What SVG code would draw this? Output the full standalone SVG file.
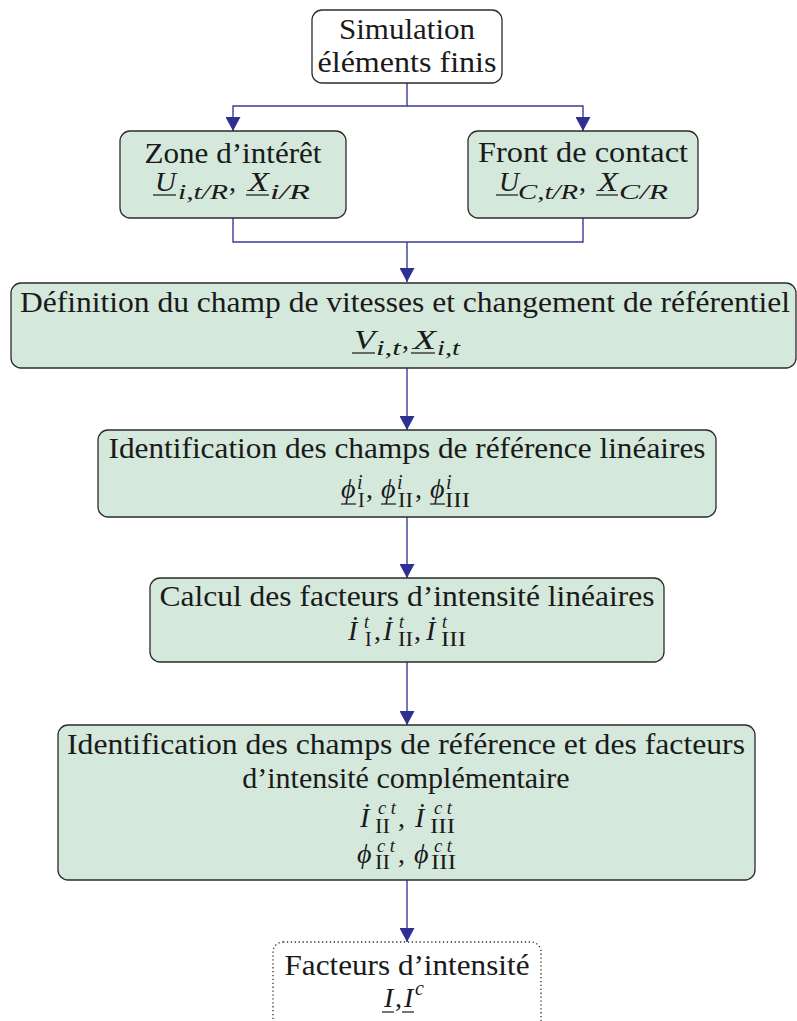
<svg xmlns="http://www.w3.org/2000/svg" width="797" height="1021" viewBox="0 0 797 1021">
<style>
.box{fill:#d5e8dc;stroke:#2b2b2b;stroke-width:1.3}
.wbox{fill:#fff;stroke:#2b2b2b;stroke-width:1.3}
.dbox{fill:#fff;stroke:#333;stroke-width:1.3;stroke-dasharray:1.3 2.6}
.t{font-family:'Liberation Serif',serif;font-size:30px;fill:#1a1a1a;text-anchor:middle}
.m{font-family:'Liberation Serif',serif;font-style:italic;font-size:28px;fill:#1a1a1a}
.r{font-family:'Liberation Serif',serif;font-size:28px;fill:#1a1a1a}
.s{font-size:20px}
.sp{font-size:18px}
.u{stroke:#1a1a1a;stroke-width:1.2}
.k{stroke:#3b3d99;stroke-width:1.4;fill:none}
</style>
<defs>
<marker id="ah" markerUnits="userSpaceOnUse" viewBox="0 0 14 15" refX="14" refY="7.5" markerWidth="14" markerHeight="15" orient="auto">
<path d="M0,0 L14,7.5 L0,15 z" fill="#2e3192"/>
</marker>
</defs>
<g id="connectors">
<path class="k" d="M407,83 V106 H233 V131" marker-end="url(#ah)"/>
<path class="k" d="M407,106 H583 V131" marker-end="url(#ah)"/>
<path class="k" d="M233,218 V242 H583 V218"/>
<path class="k" d="M407,242 V282" marker-end="url(#ah)"/>
<path class="k" d="M407,368 V430" marker-end="url(#ah)"/>
<path class="k" d="M407,517 V578" marker-end="url(#ah)"/>
<path class="k" d="M407,662 V725" marker-end="url(#ah)"/>
<path class="k" d="M407,880 V942" marker-end="url(#ah)"/>
</g>
<g id="n-sim">
<rect class="wbox" x="312" y="10" width="190" height="73" rx="10"/>
<text class="t" x="407" y="39" textLength="136" lengthAdjust="spacingAndGlyphs">Simulation</text>
<text class="t" x="407" y="72" textLength="179" lengthAdjust="spacingAndGlyphs">éléments finis</text>
</g>
<g id="n-zone">
<rect class="box" x="120" y="131" width="226" height="87" rx="10"/>
<text class="t" x="233" y="163" textLength="177" lengthAdjust="spacingAndGlyphs">Zone d’intérêt</text>
<text class="m" x="155" y="191" textLength="21" lengthAdjust="spacingAndGlyphs">U</text>
<text class="m s" x="178" y="199" textLength="50" lengthAdjust="spacingAndGlyphs">i,t/R</text>
<text class="r" x="229" y="191">,</text>
<text class="m" x="248" y="191" textLength="21" lengthAdjust="spacingAndGlyphs">X</text>
<text class="m s" x="270" y="199" textLength="40" lengthAdjust="spacingAndGlyphs">i/R</text>
<line class="u" x1="153" y1="195" x2="176" y2="195"/>
<line class="u" x1="246" y1="195" x2="269" y2="195"/>
</g>
<g id="n-front">
<rect class="box" x="468" y="131" width="230" height="87" rx="10"/>
<text class="t" x="583" y="162" textLength="210" lengthAdjust="spacingAndGlyphs">Front de contact</text>
<text class="m" x="499" y="191" textLength="20" lengthAdjust="spacingAndGlyphs">U</text>
<text class="m s" x="518" y="199" textLength="60" lengthAdjust="spacingAndGlyphs">C,t/R</text>
<text class="r" x="579" y="191">,</text>
<text class="m" x="598" y="191" textLength="20" lengthAdjust="spacingAndGlyphs">X</text>
<text class="m s" x="619" y="199" textLength="49" lengthAdjust="spacingAndGlyphs">C/R</text>
<line class="u" x1="496" y1="195" x2="518" y2="195"/>
<line class="u" x1="596" y1="195" x2="618" y2="195"/>
</g>
<g id="n-def">
<rect class="box" x="11" y="283" width="785" height="85" rx="10"/>
<text class="t" x="405" y="312" textLength="770" lengthAdjust="spacingAndGlyphs">Définition du champ de vitesses et changement de référentiel</text>
<text class="m" x="354" y="349" textLength="21" lengthAdjust="spacingAndGlyphs">V</text>
<text class="m s" x="376" y="355" textLength="25" lengthAdjust="spacingAndGlyphs">i,t</text>
<text class="r" x="402" y="349">,</text>
<text class="m" x="413" y="349" textLength="23" lengthAdjust="spacingAndGlyphs">X</text>
<text class="m s" x="437" y="355" textLength="23" lengthAdjust="spacingAndGlyphs">i,t</text>
<line class="u" x1="352" y1="353" x2="375" y2="353"/>
<line class="u" x1="411" y1="353" x2="435" y2="353"/>
</g>
<g id="n-ident">
<rect class="box" x="98" y="430" width="618" height="87" rx="10"/>
<text class="t" x="407" y="458" textLength="597" lengthAdjust="spacingAndGlyphs">Identification des champs de référence linéaires</text>
<text class="m" x="341" y="498">ϕ</text>
<text class="m s" x="357" y="489">i</text>
<text class="r s" x="358" y="507">I</text>
<text class="r" x="366" y="498">,</text>
<text class="m" x="381" y="498">ϕ</text>
<text class="m s" x="397" y="489">i</text>
<text class="r s" x="398" y="507" textLength="15" lengthAdjust="spacingAndGlyphs">II</text>
<text class="r" x="415" y="498">,</text>
<text class="m" x="430" y="498">ϕ</text>
<text class="m s" x="446" y="489">i</text>
<text class="r s" x="445" y="507" textLength="25" lengthAdjust="spacingAndGlyphs">III</text>
<line class="u" x1="341" y1="504" x2="356" y2="504"/>
<line class="u" x1="381" y1="504" x2="396" y2="504"/>
<line class="u" x1="430" y1="504" x2="445" y2="504"/>
</g>
<g id="n-calcul">
<rect class="box" x="150" y="578" width="514" height="84" rx="10"/>
<text class="t" x="407" y="606" textLength="495" lengthAdjust="spacingAndGlyphs">Calcul des facteurs d’intensité linéaires</text>
<text class="m" x="348" y="640">İ</text>
<text class="m sp" x="364" y="628">t</text>
<text class="r s" x="365" y="646">I</text>
<text class="r" x="374" y="640">,</text>
<text class="m" x="383" y="640">İ</text>
<text class="m sp" x="399" y="628">t</text>
<text class="r s" x="398" y="646" textLength="15" lengthAdjust="spacingAndGlyphs">II</text>
<text class="r" x="414" y="640">,</text>
<text class="m" x="426" y="640">İ</text>
<text class="m sp" x="442" y="628">t</text>
<text class="r s" x="441" y="646" textLength="25" lengthAdjust="spacingAndGlyphs">III</text>
</g>
<g id="n-ident2">
<rect class="box" x="58" y="725" width="697" height="155" rx="10"/>
<text class="t" x="406" y="754" textLength="678" lengthAdjust="spacingAndGlyphs">Identification des champs de référence et des facteurs</text>
<text class="t" x="406" y="788">d’intensité complémentaire</text>
<text class="m" x="360" y="827">İ</text>
<text class="m sp" x="378" y="814" textLength="18" lengthAdjust="spacingAndGlyphs">c t</text>
<text class="r s" x="375" y="833" textLength="15" lengthAdjust="spacingAndGlyphs">II</text>
<text class="r" x="398" y="827">,</text>
<text class="m" x="415" y="827">İ</text>
<text class="m sp" x="434" y="814" textLength="18" lengthAdjust="spacingAndGlyphs">c t</text>
<text class="r s" x="430" y="833" textLength="25" lengthAdjust="spacingAndGlyphs">III</text>
<text class="m" x="357" y="863">ϕ</text>
<text class="m sp" x="377" y="852" textLength="18" lengthAdjust="spacingAndGlyphs">c t</text>
<text class="r s" x="375" y="869" textLength="15" lengthAdjust="spacingAndGlyphs">II</text>
<text class="r" x="398" y="863">,</text>
<text class="m" x="414" y="863">ϕ</text>
<text class="m sp" x="434" y="852" textLength="18" lengthAdjust="spacingAndGlyphs">c t</text>
<text class="r s" x="431" y="869" textLength="25" lengthAdjust="spacingAndGlyphs">III</text>
</g>
<g id="n-fact">
<rect class="dbox" x="273" y="942" width="268" height="100" rx="10"/>
<text class="t" x="407" y="975" textLength="245" lengthAdjust="spacingAndGlyphs">Facteurs d’intensité</text>
<text class="m" x="384" y="1007">I</text>
<text class="r" x="395" y="1007">,</text>
<text class="m" x="404" y="1007">I</text>
<text class="m s" x="415" y="995">c</text>
<line class="u" x1="382" y1="1012" x2="394" y2="1012"/>
<line class="u" x1="402" y1="1012" x2="414" y2="1012"/>
</g>
</svg>
